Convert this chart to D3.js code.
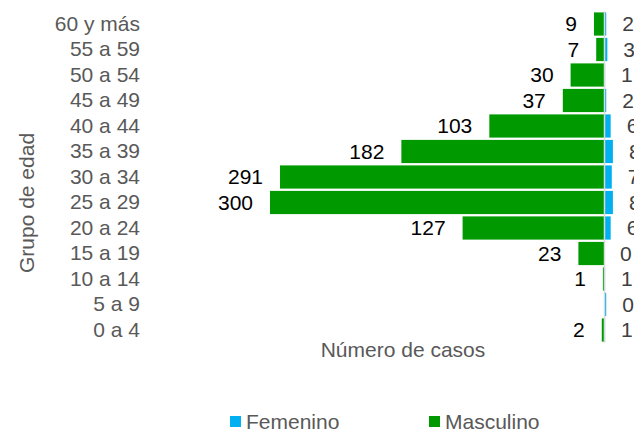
<!DOCTYPE html>
<html>
<head>
<meta charset="utf-8">
<script src="https://cdn.jsdelivr.net/npm/d3@7/dist/d3.min.js"></script>
<style>
  html, body { margin: 0; padding: 0; background: #fff; overflow: hidden; }
  svg { display: block; font-family: "Liberation Sans", Arial, sans-serif; }
</style>
</head>
<body>
<div id="chart"></div>
<script>
// grupos de edad, de arriba hacia abajo
var grupos = ["60 y más", "55 a 59", "50 a 54", "45 a 49", "40 a 44", "35 a 39", "30 a 34",
    "25 a 29", "20 a 24", "15 a 19", "10 a 14 ", "5 a 9 ", "0 a 4"];
var masculino = [9, 7, 30, 37, 103, 182, 291, 300, 127, 23, 1, 0, 2];
var femenino = [2, 3, 1, 2, 6, 8, 7, 8, 6, 0, 1, 2, 1];
var femeninoEtiquetas = ["2", "3", "1", "2", "6", "8", "7", "8", "6", "0", "1", "0", "1"];
var leyenda = ["Femenino", "Masculino"];

var width = 634;
var height = 430;
var verde = "#009900";
var azul = "#00b0f0";

var svg = d3.select("#chart")
    .append("svg")
    .attr("width", width)
    .attr("height", height);

// masculino hacia la izquierda (negativo), femenino hacia la derecha
var xscale = d3.scaleLinear()
    .domain([-300, 0])
    .range([270, 604]);

var yscale = d3.scaleBand()
    .domain(grupos)
    .range([11.25, 342.75])
    .paddingInner(0.09)
    .paddingOuter(0.045);

var filas = grupos.map(function (g, i) {
    return { grupo: g, m: masculino[i], f: femenino[i], fl: femeninoEtiquetas[i] };
});

// barras masculino
svg.selectAll("rect.m")
    .data(filas)
    .enter()
    .append("rect")
    .attr("class", "m")
    .attr("x", d => xscale(-d.m))
    .attr("y", d => yscale(d.grupo))
    .attr("width", d => xscale(0) - xscale(-d.m))
    .attr("height", yscale.bandwidth())
    .attr("fill", verde);

// barras femenino
svg.selectAll("rect.f")
    .data(filas)
    .enter()
    .append("rect")
    .attr("class", "f")
    .attr("x", xscale(0))
    .attr("y", d => yscale(d.grupo))
    .attr("width", d => xscale(d.f) - xscale(0))
    .attr("height", yscale.bandwidth())
    .attr("fill", azul);

// eje vertical central
svg.append("line")
    .attr("x1", xscale(0) + 0.5)
    .attr("x2", xscale(0) + 0.5)
    .attr("y1", yscale.range()[0])
    .attr("y2", yscale.range()[1])
    .attr("stroke", "#d9d9d9")
    .attr("stroke-width", 1.5);

// etiquetas de categoria
var yaxis = d3.axisLeft(yscale).tickSize(0).tickPadding(0);
var gy = svg.append("g")
    .attr("transform", "translate(140,0)")
    .call(yaxis);
gy.select(".domain").remove();
gy.selectAll("text")
    .attr("fill", "#595959")
    .style("font-size", "21px")
    .style("font-family", "'Liberation Sans', Arial, sans-serif");

// etiquetas de datos masculino
svg.selectAll("text.lm")
    .data(filas.filter(d => d.m > 0))
    .enter()
    .append("text")
    .attr("class", "lm")
    .attr("x", d => xscale(-d.m) - 17)
    .attr("y", d => yscale(d.grupo) + yscale.bandwidth() / 2)
    .attr("dy", "0.35em")
    .attr("text-anchor", "end")
    .style("font-size", "21px")
    .attr("fill", "#000")
    .text(d => d.m);

// etiquetas de datos femenino
svg.selectAll("text.lf")
    .data(filas)
    .enter()
    .append("text")
    .attr("class", "lf")
    .attr("x", d => xscale(d.f) + 16)
    .attr("y", d => yscale(d.grupo) + yscale.bandwidth() / 2)
    .attr("dy", "0.35em")
    .style("font-size", "21px")
    .attr("fill", "#404040")
    .text(d => d.fl);

// titulos de ejes
svg.append("text")
    .attr("transform", "translate(34,203) rotate(-90)")
    .attr("text-anchor", "middle")
    .style("font-size", "21px")
    .attr("fill", "#595959")
    .text("Grupo de edad");

svg.append("text")
    .attr("x", 403)
    .attr("y", 357)
    .attr("text-anchor", "middle")
    .style("font-size", "21px")
    .attr("fill", "#595959")
    .text("Número de casos");

// leyenda
var leg = svg.selectAll("g.leg")
    .data(leyenda)
    .enter()
    .append("g")
    .attr("class", "leg")
    .attr("transform", (d, i) => "translate(" + [230, 429][i] + ",416)");

leg.append("rect")
    .attr("width", 11)
    .attr("height", 11)
    .attr("fill", (d, i) => i == 0 ? azul : verde);

leg.append("text")
    .attr("x", 16)
    .attr("y", 5.5)
    .attr("dy", "0.35em")
    .style("font-size", "21px")
    .attr("fill", "#595959")
    .text(d => d);
</script>
</body>
</html>
